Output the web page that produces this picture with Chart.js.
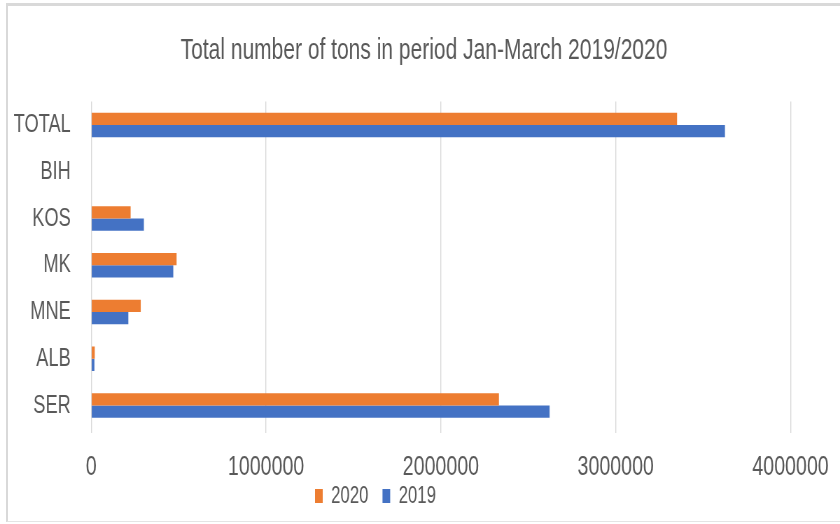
<!DOCTYPE html>
<html>
<head>
<meta charset="utf-8">
<script src="https://cdn.jsdelivr.net/npm/chart.js@4/dist/chart.umd.min.js"></script>
<style>
  html, body { margin: 0; padding: 0; background: #ffffff; overflow: hidden; }
  #page { position: relative; width: 840px; height: 524px; }
  #frame {
    position: absolute; left: 6px; top: 3px; width: 840px; height: 515px;
    border-top: 3px solid #d9d9d9; border-left: 2px solid #d9d9d9; border-bottom: 1px solid #e4e4e4;
  }
  #chart {
    position: absolute; left: 0; top: 0;
    width: 1200px; height: 524px;
    transform: scaleX(0.7); transform-origin: 0 0;
  }
</style>
</head>
<body>
<div id="page">
  <div id="frame"></div>
  <canvas id="chart" width="1200" height="524"></canvas>
</div>
<script>
// Tons handled, January–March, per country (top to bottom)
const categories = ['TOTAL', 'BIH', 'KOS', 'MK', 'MNE', 'ALB', 'SER'];
const tons2020 = [3351000, 0, 225000, 488000, 283000, 20000, 2332000];
const tons2019 = [3625000, 0, 301000, 469000, 212000, 18000, 2622000];
const xTicks = [0, 1000000, 2000000, 3000000, 4000000];

const GREY_TEXT = '#595959';
const GRID = '#d9d9d9';
const FONT = "'Liberation Sans', Arial, sans-serif";

// Moves the title centre and the legend's first swatch to fixed x positions.
const boxPlacement = {
  id: 'boxPlacement',
  afterLayout(chart) {
    const t = chart.titleBlock;
    if (t) {
      const d = 605.7 - (t.left + t.right) / 2;
      t.left += d;
      t.right += d;
    }
    const lg = chart.legend;
    if (lg && lg.lineWidths) {
      const pad = lg.options.labels.padding;
      const start = (lg.left + pad + lg.right - lg.lineWidths[0]) / 2;
      const d = 450 - start;
      lg.left += d;
      lg.right += d;
    }
  }
};

new Chart(document.getElementById('chart'), {
  type: 'bar',
  data: {
    labels: categories,
    datasets: [
      { label: '2020', data: tons2020, backgroundColor: '#ED7D31' },
      { label: '2019', data: tons2019, backgroundColor: '#4472C4' }
    ]
  },
  options: {
    indexAxis: 'y',
    responsive: false,
    animation: false,
    devicePixelRatio: 1,
    categoryPercentage: 0.52,
    barPercentage: 1.0,
    layout: { padding: { left: 10, right: 70.7, top: 0, bottom: 6 } },
    plugins: {
      title: {
        display: true,
        text: 'Total number of tons in period Jan-March 2019/2020',
        color: GREY_TEXT,
        font: { family: FONT, size: 30, weight: 'normal' },
        padding: { top: 32.5, bottom: 33.1 }
      },
      legend: {
        position: 'bottom',
        labels: {
          color: GREY_TEXT,
          font: { family: FONT, size: 24 },
          boxWidth: 11,
          boxHeight: 14,
          padding: 20
        }
      },
      tooltip: { enabled: false }
    },
    scales: {
      x: {
        min: 0,
        max: 4000000,
        afterBuildTicks: (axis) => { axis.ticks = xTicks.map(v => ({ value: v })); },
        afterFit: (axis) => {
          axis.height = 35.1;
          axis.paddingLeft = 0;
          axis.paddingRight = 0;
          // let the tick labels extend past the axis box instead of being cut
          axis._computeLabelArea = () => undefined;
        },
        grid: { color: GRID, lineWidth: 1.4, tickLength: 4, drawTicks: true },
        border: { display: false },
        ticks: {
          color: GREY_TEXT,
          font: { family: FONT, size: 28 },
          padding: 17.3,
          maxRotation: 0,
          autoSkip: false,
          callback: (v) => String(v)
        }
      },
      y: {
        afterFit: (axis) => { axis.width = 120.4; axis.paddingTop = 0; axis.paddingBottom = 0; },
        grid: { display: false, drawTicks: false },
        border: { display: false },
        ticks: {
          color: GREY_TEXT,
          font: { family: FONT, size: 26 },
          padding: 29.4
        }
      }
    }
  },
  plugins: [boxPlacement]
});
</script>
</body>
</html>
